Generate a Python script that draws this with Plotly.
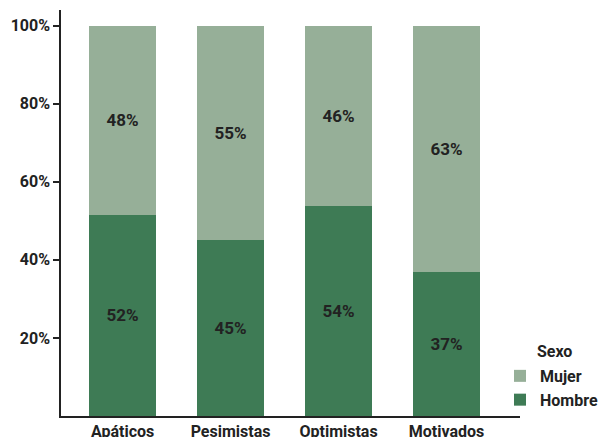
import plotly.graph_objects as go

categories = ["Apáticos", "Pesimistas", "Optimistas", "Motivados"]
hombre = [51.6, 45.2, 53.8, 36.8]
mujer = [100 - v for v in hombre]
y_ticks = [20, 40, 60, 80, 100]
y_tick_labels = ["20%", "40%", "60%", "80%", "100%"]

FONT = "Roboto"
TXT = "#222222"

fig = go.Figure()
fig.add_trace(go.Bar(
    x=categories, y=hombre, name="<b>Hombre</b>",
    marker=dict(color="#3E7B55", line=dict(width=0)),
    text=[f"<b>{round(v)}%</b>" for v in hombre],
    textposition="inside", insidetextanchor="middle",
    textfont=dict(family=FONT, size=17, color=TXT),
    width=0.62,
))
fig.add_trace(go.Bar(
    x=categories, y=mujer, name="<b>Mujer</b>",
    marker=dict(color="#96AF98", line=dict(width=0)),
    text=[f"<b>{round(v)}%</b>" for v in mujer],
    textposition="inside", insidetextanchor="middle",
    textfont=dict(family=FONT, size=17, color=TXT),
    width=0.62,
))

fig.add_annotation(
    text="<b>Sexo</b>", xref="paper", yref="paper",
    x=1.0327, y=0.160, xanchor="left", yanchor="middle",
    showarrow=False, font=dict(family=FONT, size=16, color=TXT),
)

fig.update_layout(
    width=598, height=437,
    margin=dict(l=61, r=78, t=10, b=21, autoexpand=False),
    barmode="stack",
    plot_bgcolor="white", paper_bgcolor="white",
    font=dict(family=FONT, size=16, color=TXT),
    legend=dict(
        traceorder="reversed",
        x=0.9564, y=0.1405, xanchor="left", yanchor="top",
        font=dict(family=FONT, size=16, color=TXT),
        bgcolor="rgba(0,0,0,0)",
        itemwidth=30,
        tracegroupgap=0,
    ),
    xaxis=dict(
        range=[-0.57, 3.68], automargin=False,
        showline=True, linecolor="#222222", linewidth=1.5,
        ticks="",
        showgrid=False,
        tickfont=dict(family=FONT, size=16, color=TXT, weight="bold"),
    ),
    yaxis=dict(
        range=[0, 104], automargin=False,
        showline=True, linecolor="#222222", linewidth=1.5,
        tickmode="array", tickvals=y_ticks, ticktext=y_tick_labels,
        ticks="outside", ticklen=6, tickcolor="#222222", tickwidth=1.5,
        showgrid=False, zeroline=False,
        tickfont=dict(family=FONT, size=16, color=TXT, weight="bold"),
    ),
    showlegend=True,
)

fig.write_html(
    "out.html",
    config={"displayModeBar": False},
    post_script="document.body.style.margin='0';document.body.style.overflow='hidden';",
)
